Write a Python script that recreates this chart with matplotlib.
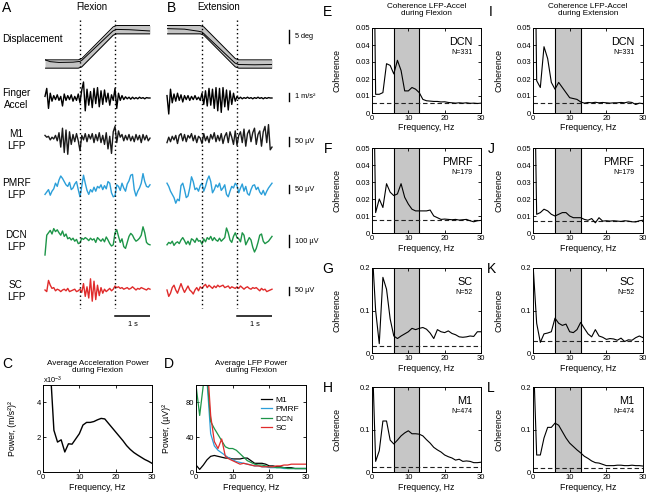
import numpy as np
import matplotlib
matplotlib.use("Agg")
import matplotlib.pyplot as plt

plt.rcParams["font.family"] = ["Liberation Sans", "DejaVu Sans"]
plt.rcParams["mathtext.fontset"] = "custom"
plt.rcParams["mathtext.rm"] = "Liberation Sans"
plt.rcParams["mathtext.it"] = "Liberation Sans:italic"

FIG_W, FIG_H = 646, 494

# ---------------------------------------------------------------------------
# Data: example trials (A, B), t = -1 .. 2 s in 0.05 s steps
# ---------------------------------------------------------------------------

TIME = np.linspace(-1.0, 2.0, 61)

DISP_T_FLEX = [-1.0, -0.85, -0.6, -0.2, 0.0, 0.06, 0.94, 1.04, 1.4, 2.0]
DISP_MEAN_FLEX = [1.6, 0.9, 0.6, 0.7, 1.0, 1.5, 12.7, 13.3, 13.2, 12.7]
BAND_T_FLEX = [-1.0, -0.05, 0.05, 0.95, 1.05, 2.0]
BAND_MID_FLEX = [0.0, 0.0, 0.5, 12.7, 13.2, 13.2]

DISP_T_EXT = [-1.0, -0.5, -0.1, 0.0, 0.06, 0.94, 1.04, 1.5, 2.0]
DISP_MEAN_EXT = [13.6, 13.4, 12.6, 12.3, 11.6, 0.4, -0.2, -0.3, -0.2]
BAND_T_EXT = [-1.0, -0.05, 0.05, 0.95, 1.05, 2.0]
BAND_MID_EXT = [13.2, 13.2, 12.7, 0.5, 0.0, 0.0]
BAND_HALF = 1.6

ACC_FLEX = [0.2, 1.2, -1.3, 0.6, -0.4, 0.3, -0.2, 0.4, -0.3, 0.2,
            -1.0, 0.5, -0.3, 0.3, -0.2, 0.4, -0.4, 0.2, -0.3, 0.5,
            -0.6, 1.0, 2.0, -1.6, 1.1, -0.9, 0.8, -1.2, 1.2, -0.7,
            1.3, -1.1, 0.9, -0.8, 1.0, -0.5, 0.6, -0.9, 0.4, -0.3,
            1.2, -1.3, 0.6, -0.3, 0.3, -0.2, 0.15, -0.1, 0.1, -0.15,
            0.1, -0.1, 0.05, -0.1, 0.1, -0.05, 0.05, -0.1, 0.05, 0.0, 0.0]
ACC_EXT = [0.3, -2.0, 1.1, -0.6, 0.5, -0.4, 0.6, -0.3, 0.4, -0.5,
           0.3, -0.2, 0.3, -0.3, 0.2, -0.2, 0.3, -0.2, 0.1, -0.3,
           0.6, -0.8, 0.9, -1.0, 1.2, -0.9, 1.1, -1.3, 1.3, -1.6,
           1.2, -1.8, 1.3, -1.1, 1.0, -1.5, 0.9, -0.8, 0.6, -0.4,
           0.2, -0.1, 0.1, -0.1, 0.05, -0.05, 0.1, -0.05, 0.05, -0.1,
           0.05, -0.05, 0.1, -0.05, 0.05, -0.1, 0.05, -0.05, 0.05, 0.0, 0.0]

M1_FLEX = [20, 10, 15, -5, 10, 0, 20, -10, 35, -45,
           60, -75, 50, -85, 40, -30, 25, -15, 30, -10,
           -65, 20, -5, 30, -15, 25, 0, 30, -20, 25,
           -10, 35, -20, 20, -30, 35, -55, 15, -80, 40,
           70, -20, 45, 10, 25, -10, 20, -5, 25, -10,
           15, -15, 25, -5, 20, -20, 25, -5, 20, -10, 5]
M1_EXT = [-20, 10, -15, 15, -5, 20, -25, 20, 30, -10,
          25, -15, 20, 5, 30, -10, 20, -20, 15, 5,
          -25, 30, -10, 15, -20, 25, 0, 35, -15, 20,
          -10, 30, -25, 15, 35, -20, 40, 10, -30, 45,
          -35, 20, 40, -20, 55, -40, 30, 50, -15, 35,
          60, -30, 25, 45, -40, 40, 70, -20, 80, -60, -45]

PMRF_FLEX = [-40, -25, -10, -45, -20, -5, 30, 10, 50, 75,
             60, 40, 20, 10, 35, -10, 0, 25, 40, -10,
             -55, 10, 80, 30, -15, -40, -10, -25, 5, -20,
             10, 0, 20, -10, 15, -5, 40, 30, -30, -55,
             -50, 20, 10, -15, 30, 0, -20, 25, 45, 80,
             85, -10, -50, -20, 0, 30, 90, 40, 10, 5, 20]
PMRF_EXT = [30, 10, -20, -40, -60, -95, -70, -80, 15, 30,
            -10, -60, -50, 0, 70, 40, -10, 0, -20, 15,
            30, -20, 10, 50, 75, 40, -30, -10, 20, 5,
            30, -15, 0, 20, -40, -55, -20, 10, 0, 30,
            15, -30, 0, 25, -20, 10, -35, -45, -10, 15,
            20, -10, 5, -25, -40, -15, -45, -20, 0, 15, 30]

DCN_FLEX = [-125, 40, 60, 80, 50, 95, 70, 85, 60, 40,
            75, 30, 50, 10, 20, 0, 15, -10, 5, -30,
            -25, 15, 5, 20, 10, -5, 15, 0, 10, -20,
            20, 5, -10, 10, -15, 25, 0, -30, -50, -40,
            60, 85, 30, -20, 10, -55, -70, -20, 30, 55,
            40, 10, -10, 0, 15, 40, 110, 60, -20, -35, -40]
DCN_EXT = [-40, -20, -30, -10, -45, -25, -15, -30, 0, 20,
           -5, -35, -10, -40, 10, 0, -20, 15, -10, -5,
           -35, 10, -15, 20, 5, 30, -5, 20, 0, -10,
           15, -10, 5, 20, 100, 60, 0, -20, 30, 60,
           20, 10, -15, 60, 40, -40, -10, 20, 0, -60,
           -100, -70, -20, 40, 50, -10, -30, -20, -10, 10, 30]

SC_FLEX = [0, -10, 60, 30, 10, 15, -5, 5, 0, -10,
           0, 5, -5, 10, -10, -5, 0, 5, -10, -5,
           5, -15, 40, -40, 20, -50, 70, -70, 55, -60,
           30, -35, 15, -20, 5, -10, 0, 10, -5, 5,
           25, 15, 20, 10, 15, 5, 10, 15, 5, 10,
           20, 10, 0, 10, 5, 15, 10, 5, 0, 10, 5]
SC_EXT = [0, -40, -20, 15, 30, 0, -20, 10, 40, 10,
          -15, 5, 25, 0, -10, -25, 0, 15, -5, 20,
          10, 25, 35, 15, 30, 20, 10, 25, 15, 30,
          20, 25, 30, 15, 20, 25, 10, 20, 15, 10,
          20, 10, 25, 15, 5, 15, 20, 10, 5, 15,
          10, 15, 5, -5, 10, 0, 5, -10, -5, 0, 5]

# ---------------------------------------------------------------------------
# Data: power spectra (C, D)
# ---------------------------------------------------------------------------

ACC_POWER_FREQ = list(range(2, 31))
ACC_POWER = [6.0, 2.4, 1.72, 1.85, 1.15, 1.62, 1.6, 1.9, 2.2, 2.7,
             2.85, 2.85, 2.9, 3.0, 3.08, 3.05, 2.8, 2.55, 2.3, 2.05,
             1.8, 1.52, 1.3, 1.12, 0.98, 0.85, 0.72, 0.62, 0.5]

FREQ = list(range(31))
LFP_POWER = {
    "M1": [8, 3, 8, 14, 18, 19, 18, 17, 16, 16, 15, 15, 15, 16, 16, 13,
           10, 10, 10, 9, 7, 7, 6, 6, 5, 5, 5, 4, 4, 4, 4],
    "PMRF": [120, 100, 110, 105, 44, 30, 25, 22, 19, 16, 14, 12, 11, 10, 9, 8,
             7, 7, 6, 6, 5, 5, 5, 5, 4, 4, 4, 4, 4, 4, 4],
    "DCN": [100, 65, 100, 110, 58, 50, 43, 36, 29, 27, 27, 25, 21, 17, 13, 11,
            9, 8, 8, 7, 6, 6, 5, 5, 5, 4, 4, 4, 4, 4, 4],
    "SC": [130, 125, 120, 130, 65, 35, 27, 38, 18, 15, 13, 11, 9, 10, 9, 8,
           7, 7, 6, 6, 6, 6, 7, 7, 8, 8, 9, 9, 9, 9, 9],
}
LFP_COLORS = {"M1": "black", "PMRF": "#2b9fd9", "DCN": "#1d9548", "SC": "#e02b2b"}

# ---------------------------------------------------------------------------
# Data: coherence spectra (E-L)
# ---------------------------------------------------------------------------

COH_DCN_FLEX = [0.2, 0.011, 0.011, 0.012, 0.029, 0.028, 0.023, 0.031, 0.025, 0.013,
                0.013, 0.015, 0.014, 0.012, 0.008, 0.0072, 0.007, 0.0068, 0.0068, 0.0065,
                0.0066, 0.0062, 0.006, 0.0058, 0.006, 0.0058, 0.006, 0.0057, 0.0058, 0.0056, 0.0058]
COH_PMRF_FLEX = [0.15, 0.012, 0.02, 0.015, 0.029, 0.024, 0.022, 0.023, 0.029, 0.021,
                 0.017, 0.014, 0.013, 0.013, 0.013, 0.013, 0.0135, 0.01, 0.009, 0.008,
                 0.0082, 0.008, 0.0078, 0.008, 0.0076, 0.0078, 0.008, 0.0072, 0.0066, 0.0072, 0.0074]
COH_SC_FLEX = [0.25, 0.1, 0.022, 0.178, 0.15, 0.08, 0.04, 0.034, 0.04, 0.045,
               0.05, 0.058, 0.055, 0.058, 0.06, 0.056, 0.047, 0.034, 0.055, 0.05,
               0.048, 0.052, 0.046, 0.043, 0.038, 0.037, 0.038, 0.04, 0.039, 0.05, 0.05]
COH_M1_FLEX = [0.3, 0.025, 0.05, 0.12, 0.12, 0.075, 0.066, 0.075, 0.085, 0.092,
               0.097, 0.09, 0.09, 0.089, 0.085, 0.076, 0.068, 0.058, 0.052, 0.047,
               0.04, 0.036, 0.033, 0.028, 0.03, 0.025, 0.026, 0.025, 0.022, 0.022, 0.023]
COH_DCN_EXT = [0.2, 0.019, 0.015, 0.039, 0.032, 0.018, 0.014, 0.018, 0.015, 0.012,
               0.009, 0.0085, 0.008, 0.0065, 0.0058, 0.0062, 0.006, 0.0063, 0.006, 0.0062,
               0.006, 0.0058, 0.006, 0.006, 0.0062, 0.006, 0.0065, 0.0062, 0.005, 0.0058, 0.0055]
COH_PMRF_EXT = [0.15, 0.011, 0.012, 0.014, 0.013, 0.011, 0.010, 0.011, 0.012, 0.012,
                0.010, 0.009, 0.009, 0.009, 0.008, 0.0075, 0.0085, 0.006, 0.009, 0.007,
                0.0072, 0.007, 0.0072, 0.007, 0.0068, 0.0072, 0.007, 0.0066, 0.0065, 0.0072, 0.0075]
COH_SC_EXT = [0.21, 0.07, 0.025, 0.045, 0.047, 0.05, 0.082, 0.07, 0.065, 0.068,
              0.05, 0.048, 0.055, 0.072, 0.058, 0.045, 0.038, 0.055, 0.04, 0.037,
              0.032, 0.034, 0.033, 0.03, 0.035, 0.027, 0.031, 0.03, 0.036, 0.04, 0.036]
COH_M1_EXT = [0.3, 0.04, 0.04, 0.08, 0.105, 0.105, 0.115, 0.11, 0.095, 0.08,
              0.068, 0.06, 0.052, 0.045, 0.037, 0.032, 0.026, 0.022, 0.021, 0.018,
              0.015, 0.015, 0.015, 0.016, 0.016, 0.015, 0.015, 0.016, 0.015, 0.015, 0.014]

# letter, area, N, curve, significance level, y max
COH_FLEX = [
    ("E", "DCN", "N=331", COH_DCN_FLEX, 0.006, 0.05),
    ("F", "PMRF", "N=179", COH_PMRF_FLEX, 0.0075, 0.05),
    ("G", "SC", "N=52", COH_SC_FLEX, 0.017, 0.2),
    ("H", "M1", "N=474", COH_M1_FLEX, 0.011, 0.2),
]
COH_EXT = [
    ("I", "DCN", "N=331", COH_DCN_EXT, 0.006, 0.05),
    ("J", "PMRF", "N=179", COH_PMRF_EXT, 0.007, 0.05),
    ("K", "SC", "N=52", COH_SC_EXT, 0.028, 0.2),
    ("L", "M1", "N=474", COH_M1_EXT, 0.01, 0.2),
]
TREMOR_BAND = (6, 13)


# ---------------------------------------------------------------------------
# Layout helpers (pixel coordinates, origin top-left)
# ---------------------------------------------------------------------------

def px_axes(fig, left, top, width, height):
    return fig.add_axes([left / FIG_W, 1 - (top + height) / FIG_H,
                         width / FIG_W, height / FIG_H])


def px_text(fig, x, y, s, **kw):
    kw.setdefault("ha", "center")
    kw.setdefault("va", "center")
    fig.text(x / FIG_W, 1 - y / FIG_H, s, **kw)


def style_box(ax):
    ax.tick_params(direction="in", length=2, width=0.6, top=True, right=True,
                   labelsize=5.5, pad=1.5)
    for s in ax.spines.values():
        s.set_linewidth(0.7)


def freq_label(ax, height_px):
    ax.set_xlabel("Frequency, Hz", fontsize=6.3)
    ax.xaxis.set_label_coords(0.5, -10.5 / height_px)


# ---------------------------------------------------------------------------
# A, B: example traces
# ---------------------------------------------------------------------------

def draw_traces(fig):
    cols = [45, 167]
    rows = [
        ("Finger\nAccel", ACC_FLEX, ACC_EXT, 98, 8.0, 1.0, "1 m/s²", 97, "black"),
        ("M1\nLFP", M1_FLEX, M1_EXT, 139, 0.18, 50, "50 µV", 141.5, "#1a1a1a"),
        ("PMRF\nLFP", PMRF_FLEX, PMRF_EXT, 188, 0.16, 50, "50 µV", 189, "#2b9fd9"),
        ("DCN\nLFP", DCN_FLEX, DCN_EXT, 240, 0.12, 100, "100 µV", 241, "#1d9548"),
        ("SC\nLFP", SC_FLEX, SC_EXT, 290, 0.16, 50, "50 µV", 291, "#e02b2b"),
    ]

    # displacement
    y0, ppu = 64, 2.6
    disp = [(DISP_T_FLEX, DISP_MEAN_FLEX, BAND_T_FLEX, BAND_MID_FLEX),
            (DISP_T_EXT, DISP_MEAN_EXT, BAND_T_EXT, BAND_MID_EXT)]
    for x0, (t, mean, bt, bmid) in zip(cols, disp):
        ax = px_axes(fig, x0, 18, 105, 54)
        ax.set_xlim(-1, 2)
        ax.set_ylim((y0 - 72) / ppu, (y0 - 18) / ppu)
        ax.axis("off")
        bmid = np.array(bmid)
        ax.fill_between(bt, bmid - BAND_HALF, bmid + BAND_HALF, color="#c4c4c4", lw=0)
        ax.plot(bt, bmid - BAND_HALF, color="black", lw=0.7)
        ax.plot(bt, bmid + BAND_HALF, color="black", lw=0.7)
        ax.plot(t, mean, color="black", lw=0.7)
    sb = px_axes(fig, 284, 18, 40, 54)
    sb.set_xlim(0, 40)
    sb.set_ylim((y0 - 72) / ppu, (y0 - 18) / ppu)
    sb.axis("off")
    lo = (y0 - 43) / ppu
    sb.plot([5, 5], [lo, lo + 5], color="black", lw=1.0)
    sb.text(11, lo + 2.5, "5 deg", fontsize=5.3, va="center")
    px_text(fig, 2, 39, "Displacement", fontsize=7.2, ha="left")

    for label, flex, ext, y0, ppu, scale, slabel, bar_c, color in rows:
        lim = (-22 / ppu, 22 / ppu)
        for x0, vals in zip(cols, (flex, ext)):
            ax = px_axes(fig, x0, y0 - 22, 105, 44)
            ax.set_xlim(-1, 2)
            ax.set_ylim(*lim)
            ax.axis("off")
            ax.plot(TIME, vals, color=color, lw=1.0, clip_on=False)
        sb = px_axes(fig, 284, y0 - 22, 40, 44)
        sb.set_xlim(0, 40)
        sb.set_ylim(*lim)
        sb.axis("off")
        vc = (y0 - bar_c) / ppu
        sb.plot([5, 5], [vc - scale / 2, vc + scale / 2], color="black", lw=1.0)
        sb.text(11, vc, slabel, fontsize=5.3, va="center")
        px_text(fig, 16, y0 + 1, label, fontsize=7.2, linespacing=1.15)

    # movement onset / offset and time bars
    for x0 in cols:
        ov = px_axes(fig, x0, 18, 105, 312)
        ov.set_xlim(-1, 2)
        ov.set_ylim(330, 18)
        ov.axis("off")
        ov.vlines([0, 1], 20, 308, colors="black", lw=1.0, linestyles=(0, (1, 2)))
        ov.plot([1, 2], [316, 316], color="black", lw=1.1)
        ov.text(1.5, 324, "1 s", fontsize=5.3, ha="center", va="center")

    px_text(fig, 7, 8, "A", fontsize=10)
    px_text(fig, 172, 8, "B", fontsize=10)
    px_text(fig, 92, 7, "Flexion", fontsize=7)
    px_text(fig, 219, 7, "Extension", fontsize=7)


# ---------------------------------------------------------------------------
# C, D: power spectra
# ---------------------------------------------------------------------------

def draw_power(fig):
    ax = px_axes(fig, 43, 385, 109, 87)
    ax.plot(ACC_POWER_FREQ, ACC_POWER, color="black", lw=1.0)
    ax.set_xlim(0, 30)
    ax.set_ylim(0, 5)
    ax.set_xticks([0, 10, 20, 30])
    ax.set_yticks([0, 2, 4])
    style_box(ax)
    freq_label(ax, 87)
    ax.set_ylabel("Power, (m/s²)²", fontsize=6.3)
    ax.yaxis.set_label_coords(-26 / 109, 0.5)
    px_text(fig, 43, 380, r"x10$^{-3}$", fontsize=5.3, ha="left")
    px_text(fig, 97.5, 367, "Average Acceleration Power\nduring Flexion", fontsize=5.9,
            linespacing=1.1)
    px_text(fig, 7, 364, "C", fontsize=10)

    ax = px_axes(fig, 196, 385, 110, 87)
    for name, vals in LFP_POWER.items():
        ax.plot(FREQ, vals, color=LFP_COLORS[name], lw=0.9, label=name)
    ax.set_xlim(0, 30)
    ax.set_ylim(0, 100)
    ax.set_xticks([0, 10, 20, 30])
    ax.set_yticks([0, 40, 80])
    style_box(ax)
    freq_label(ax, 87)
    ax.set_ylabel("Power, (µV)²", fontsize=6.3)
    ax.yaxis.set_label_coords(-25 / 110, 0.5)
    ax.legend(loc="upper right", bbox_to_anchor=(0.94, 0.875), frameon=False, fontsize=6,
              handlelength=1.3, handletextpad=0.5, labelspacing=0.2, borderpad=0,
              borderaxespad=0)
    px_text(fig, 251, 367, "Average LFP Power\nduring Flexion", fontsize=5.9, linespacing=1.1)
    px_text(fig, 169, 364, "D", fontsize=10)


# ---------------------------------------------------------------------------
# E-L: coherence
# ---------------------------------------------------------------------------

def coh_fmt(v, pos):
    return "0" if v == 0 else f"{v:g}"


def draw_coherence(fig):
    columns = [(372, 109, 328, COH_FLEX, "Coherence LFP-Accel\nduring Flexion"),
               (533, 110, 491, COH_EXT, "Coherence LFP-Accel\nduring Extension")]
    tops = [28, 148, 268, 387]
    h = 85
    for left, width, letter_x, panels, title in columns:
        for i, (letter, area, n_label, curve, sig, ymax) in enumerate(panels):
            top = tops[i]
            ax = px_axes(fig, left, top, width, h)
            ax.axvspan(*TREMOR_BAND, color="#c6c6c6", lw=0)
            for edge in TREMOR_BAND:
                ax.axvline(edge, color="black", lw=0.8)
            ax.axhline(sig, color="#222222", lw=0.8, dashes=(4, 2.5))
            ax.plot(FREQ, curve, color="black", lw=0.8)
            ax.set_xlim(0, 30)
            ax.set_ylim(0, ymax)
            ax.set_xticks([0, 10, 20, 30])
            if ymax < 0.1:
                ax.set_yticks([0, 0.01, 0.02, 0.03, 0.04, 0.05])
            else:
                ax.set_yticks([0, 0.1, 0.2])
            ax.yaxis.set_major_formatter(plt.FuncFormatter(coh_fmt))
            style_box(ax)
            freq_label(ax, h)
            ax.set_ylabel("Coherence", fontsize=6.3)
            ax.yaxis.set_label_coords(-30 / width, 0.5)
            ax.text(0.92, 0.84, area, transform=ax.transAxes, fontsize=7.8,
                    ha="right", va="center")
            ax.text(0.92, 0.71, n_label, transform=ax.transAxes, fontsize=5,
                    ha="right", va="center")
            ly = 12 if i == 0 else top + 1
            px_text(fig, letter_x, ly, letter, fontsize=10)
        px_text(fig, left + width / 2, 10, title, fontsize=5.9, linespacing=1.15)


def main():
    fig = plt.figure(figsize=(FIG_W / 100, FIG_H / 100), dpi=100)
    draw_traces(fig)
    draw_power(fig)
    draw_coherence(fig)
    fig.savefig("out.png", dpi=100)
    plt.close(fig)


if __name__ == "__main__":
    main()
